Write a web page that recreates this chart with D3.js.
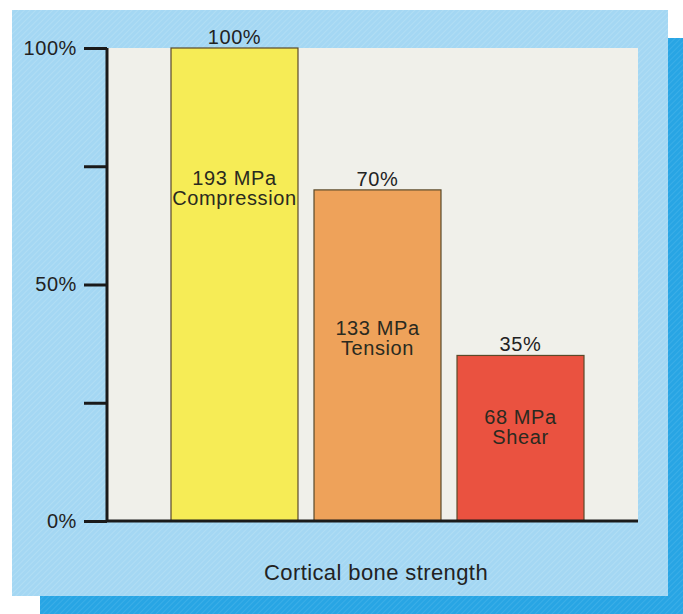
<!DOCTYPE html>
<html>
<head>
<meta charset="utf-8">
<script src="https://cdn.jsdelivr.net/npm/d3@7"></script>
<style>
  body { margin: 0; background: #fff; }
  svg { display: block; font-family: "Liberation Sans", Arial, sans-serif; }
</style>
</head>
<body>
<div id="chart"></div>
<script>
const width = 683, height = 614;

const categories = ["Compression", "Tension", "Shear"];
const percents = [100, 70, 35];
const mpaLabels = ["193 MPa", "133 MPa", "68 MPa"];
const barColors = ["#f6ec56", "#eea25a", "#ea5240"];
const tickValues = [0, 25, 50, 75, 100];
const tickLabels = ["0%", "", "50%", "", "100%"];

const svg = d3.select("#chart").append("svg")
    .attr("width", width)
    .attr("height", height);

// hatched blue background
const defs = svg.append("defs");
const hatch = (id, bg, line) => {
    const p = defs.append("pattern")
        .attr("id", id)
        .attr("patternUnits", "userSpaceOnUse")
        .attr("width", 4).attr("height", 4)
        .attr("patternTransform", "rotate(45)");
    p.append("rect").attr("width", 4).attr("height", 4).attr("fill", bg);
    p.append("line").attr("x1", 0).attr("y1", 0).attr("x2", 0).attr("y2", 4)
        .attr("stroke", line).attr("stroke-width", 1.2);
};
hatch("lightHatch", "#a4d7f3", "#b8e1f6");
hatch("darkHatch", "#28a5e4", "#48b4ea");

svg.append("rect").attr("x", 668).attr("y", 38).attr("width", 15).attr("height", 576)
    .attr("fill", "url(#darkHatch)");
svg.append("rect").attr("x", 40).attr("y", 596).attr("width", 643).attr("height", 18)
    .attr("fill", "url(#darkHatch)");
svg.append("rect").attr("x", 12).attr("y", 10).attr("width", 656).attr("height", 586)
    .attr("fill", "url(#lightHatch)");

const xScale = d3.scaleBand()
    .domain(categories)
    .range([171, 584])
    .paddingInner(0.112)
    .paddingOuter(0);

const yScale = d3.scaleLinear()
    .domain([0, 100])
    .range([521, 48]);

// plot panel
svg.append("rect")
    .attr("x", 107)
    .attr("y", yScale(100))
    .attr("width", 638 - 107)
    .attr("height", yScale(0) - yScale(100))
    .attr("fill", "#f0f0ea");

svg.selectAll(".bar")
    .data(categories)
    .join("rect")
        .attr("class", "bar")
        .attr("x", d => xScale(d))
        .attr("y", (d, i) => yScale(percents[i]))
        .attr("width", xScale.bandwidth())
        .attr("height", (d, i) => yScale(0) - yScale(percents[i]))
        .attr("fill", (d, i) => barColors[i])
        .attr("stroke", "#5a4a2a")
        .attr("stroke-width", 1.2);

// percent labels on top
svg.selectAll(".pct")
    .data(categories)
    .join("text")
        .attr("class", "pct")
        .attr("x", d => xScale(d) + xScale.bandwidth() / 2)
        .attr("y", (d, i) => yScale(percents[i]) - 4)
        .attr("text-anchor", "middle")
        .attr("font-size", 20)
        .attr("letter-spacing", 0.6)
        .attr("fill", "#222")
        .text((d, i) => percents[i] + "%");

// labels inside bars
const labelY = [185, 335, 424];
const inner = svg.selectAll(".inner")
    .data(categories)
    .join("text")
        .attr("class", "inner")
        .attr("x", d => xScale(d) + xScale.bandwidth() / 2)
        .attr("y", (d, i) => labelY[i])
        .attr("text-anchor", "middle")
        .attr("font-size", 20)
        .attr("letter-spacing", 0.6)
        .attr("fill", "#2a2a20");
inner.append("tspan").text((d, i) => mpaLabels[i]);
inner.append("tspan")
    .attr("x", d => xScale(d) + xScale.bandwidth() / 2)
    .attr("dy", 20)
    .text(d => d);

// y axis
const yAxis = svg.append("g")
    .attr("transform", "translate(107,0)")
    .call(d3.axisLeft(yScale)
        .tickValues(tickValues)
        .tickFormat((d, i) => tickLabels[i])
        .tickSize(23)
        .tickPadding(7));
yAxis.select(".domain").attr("stroke", "#1a1a1a").attr("stroke-width", 3)
    .attr("d", `M0,${yScale(100)}V${yScale(0)}`);
yAxis.selectAll(".tick line").attr("stroke", "#1a1a1a").attr("stroke-width", 3);
yAxis.selectAll(".tick text").attr("font-size", 20).attr("letter-spacing", 0.6)
    .attr("fill", "#222")
    .attr("font-family", "Liberation Sans, Arial, sans-serif");

// baseline
svg.append("line")
    .attr("x1", 106).attr("x2", 638)
    .attr("y1", yScale(0)).attr("y2", yScale(0))
    .attr("stroke", "#1a1a1a").attr("stroke-width", 3);

svg.append("text")
    .attr("x", 376).attr("y", 580)
    .attr("text-anchor", "middle")
    .attr("font-size", 22)
    .attr("letter-spacing", 0.4)
    .attr("fill", "#222")
    .text("Cortical bone strength");
</script>
</body>
</html>
